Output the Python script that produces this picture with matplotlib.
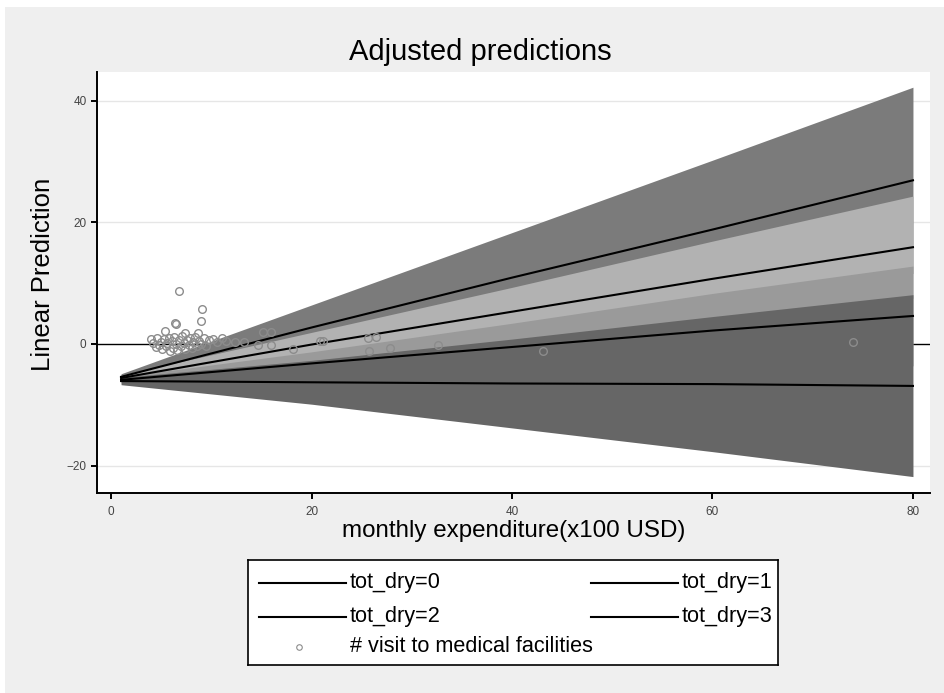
import matplotlib.pyplot as plt
from matplotlib.patches import Rectangle

plt.rcParams['font.family'] = ['Liberation Sans', 'DejaVu Sans']

# predictions and 95% CI by number of dry months, at selected expenditure levels
expend = [1, 20, 40, 60, 80]

pred_dry0 = [-5.4, 2.7, 10.9, 18.8, 26.9]
hi_dry0 = [-4.9, 6.4, 18.3, 30.2, 42.2]
lo_dry0 = [-5.9, -1.0, 3.5, 7.4, 11.6]

pred_dry1 = [-5.6, -0.1, 5.3, 10.7, 15.9]
hi_dry1 = [-5.1, 1.9, 9.3, 16.9, 24.3]
lo_dry1 = [-6.1, -2.1, 1.3, 4.5, 7.5]

pred_dry2 = [-5.9, -3.2, -0.5, 2.2, 4.6]
hi_dry2 = [-5.4, -1.3, 3.4, 8.3, 12.8]
lo_dry2 = [-6.4, -5.1, -4.4, -3.9, -3.6]

pred_dry3 = [-6.1, -6.3, -6.5, -6.6, -6.9]
hi_dry3 = [-5.5, -2.7, 0.8, 4.5, 8.1]
lo_dry3 = [-6.7, -9.9, -13.8, -17.7, -21.8]

# observed visits to medical facilities
obs_exp = [4.0, 4.2, 4.5, 4.6, 4.8, 5.0, 5.1, 5.3, 5.5, 5.6, 5.8, 5.9, 6.1, 6.2,
           6.3, 6.5, 6.6, 6.8, 7.0, 7.1, 7.3, 7.4, 7.6, 7.8, 7.9, 8.1, 8.2, 8.4,
           8.6, 8.8, 9.0, 9.3, 9.5, 9.8, 10.2, 10.6, 11.1, 11.5, 12.4, 13.3,
           14.7, 15.2, 16.0, 16.0, 18.2, 20.8, 21.1, 25.6, 26.4, 25.7, 27.8,
           32.6, 43.1, 74.0, 6.8, 9.1, 9.0, 6.4, 6.5, 5.4, 7.4, 8.7]
obs_visit = [0.8, 0.2, -0.5, 0.9, -0.2, 0.4, -0.9, 0.8, -0.4, 0.1, 1.0, -1.2,
             0.5, -0.6, 1.2, 0.0, -1.0, 0.7, -0.3, 1.3, 0.2, -0.8, 0.6, -0.1,
             1.0, -0.6, 0.3, 1.1, -0.3, 0.5, 0.0, 0.9, -0.4, 0.7, 0.8, 0.3,
             1.0, 0.5, 0.3, 0.3, -0.2, 2.0, 2.0, -0.2, -0.8, 0.5, 0.5, 0.9,
             1.2, -1.2, -0.6, -0.2, -1.2, 0.4, 8.7, 5.7, 3.8, 3.4, 3.2, 2.2,
             1.75, 1.75]

W, H = 944, 693
fig = plt.figure(figsize=(W / 100, H / 100), dpi=100)
fig.patch.set_facecolor('white')
fig.add_artist(Rectangle((5 / W, 0), 1, 1 - 7 / H, transform=fig.transFigure,
                         facecolor='#efefef', edgecolor='none', zorder=-10))

ax = fig.add_axes([97 / W, 1 - 493 / H, (930 - 97) / W, (493 - 72) / H])
ax.set_facecolor('white')

for gy in [-20, 20, 40]:
    ax.axhline(gy, color='#e6e6e6', lw=1, zorder=0)
ax.axhline(0, color='black', lw=1, zorder=1)

bands = [(lo_dry0, hi_dry0, '#7b7b7b'), (lo_dry1, hi_dry1, '#b2b2b2'),
         (lo_dry2, hi_dry2, '#9a9a9a'), (lo_dry3, hi_dry3, '#666666')]
for lo, hi, col in bands:
    ax.fill_between(expend, lo, hi, color=col, lw=0, zorder=2)

for pred in [pred_dry0, pred_dry1, pred_dry2, pred_dry3]:
    ax.plot(expend, pred, color='black', lw=1.5, zorder=3)

ax.plot(obs_exp, obs_visit, 'o', ms=5.5, mfc='none', mec='#8c8c8c', mew=1,
        zorder=4)

ax.set_xlim(-1.4, 81.7)
ax.set_ylim(-24.5, 44.7)
ax.set_xticks([0, 20, 40, 60, 80])
ax.set_yticks([-20, 0, 20, 40])
ax.tick_params(direction='out', length=4.5, width=1.4, labelsize=8.5,
               labelcolor='#444444')
ax.tick_params(axis='x', pad=5)
ax.tick_params(axis='y', pad=3)
for s in ['top', 'right']:
    ax.spines[s].set_visible(False)
for s in ['left', 'bottom']:
    ax.spines[s].set_linewidth(1.4)

fig.text(480 / W, 1 - 52 / H, 'Adjusted predictions', fontsize=21,
         ha='center', va='center')
fig.text(514 / W, 1 - 531 / H, 'monthly expenditure(x100 USD)', fontsize=17.4,
         ha='center', va='center')
fig.text(43 / W, 1 - 274 / H, 'Linear Prediction', fontsize=18.5,
         rotation=90, ha='center', va='center')

# legend box
lg = fig.add_axes([248 / W, 1 - 665 / H, (778 - 248) / W, (665 - 560) / H])
lg.set_xlim(248, 778)
lg.set_ylim(665, 560)
lg.set_xticks([])
lg.set_yticks([])
for s in lg.spines.values():
    s.set_linewidth(1.2)
entries = [('tot_dry=0', 259, 583), ('tot_dry=1', 591, 583),
           ('tot_dry=2', 259, 617), ('tot_dry=3', 591, 617)]
for lab, x0, y0 in entries:
    lg.plot([x0, x0 + 87], [y0, y0], color='black', lw=1.5)
    lg.text(x0 + 91, y0, lab, fontsize=15.6, va='center', ha='left')
lg.plot([299], [647], 'o', ms=4, mfc='none', mec='#8c8c8c', mew=0.8)
lg.text(350, 647, '# visit to medical facilities', fontsize=15.6,
        va='center', ha='left')

fig.savefig('out.png', dpi=100)
